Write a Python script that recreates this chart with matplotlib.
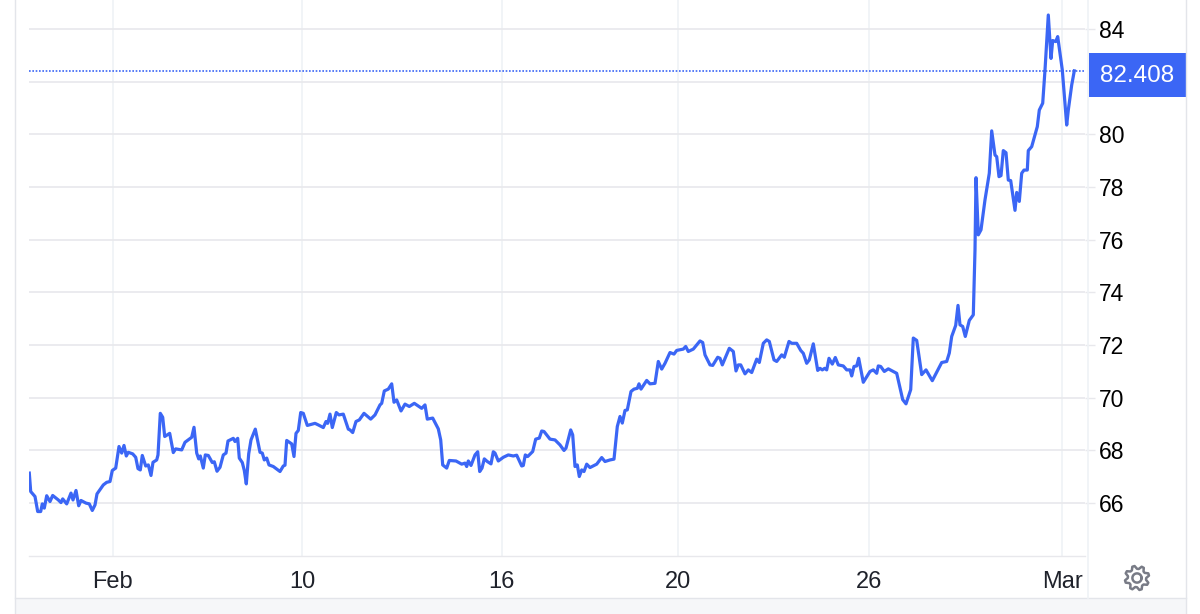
import numpy as np
import matplotlib
matplotlib.use("Agg")
import matplotlib.pyplot as plt
from matplotlib.lines import Line2D
from matplotlib.patches import Rectangle, Polygon

W, H = 1200, 614

# bar number along the time axis and price
bars_a = [0.3, 1.7, 6, 8.7, 11.7, 13.3, 15.3, 17.7, 21, 23.7, 29.3, 32, 33.7, 37.7, 42, 44, 47, 49.7, 52, 57,
          60.3, 63.3, 66, 68, 74.3, 77.7, 81, 83.3, 86.7, 90, 92.7, 95, 97.3, 99.3, 103.7, 106.7, 109, 111.3, 113.3, 116.7,
          119.3, 122, 124, 127.7, 129, 131.3, 133.7, 135.7, 140.7, 144.3, 146.7, 152.7, 156, 162.7, 165, 167.7, 169.7, 171.3, 174.3, 176.3,
          179.3, 183.3, 185.3, 188, 191, 194.3, 197, 199, 204.3, 206, 208.7, 210.3, 213.3, 215.3, 217.3, 219.7, 222, 226.3, 231, 233.3,
          235.3, 237.7, 240, 244.3, 251, 254.3, 256, 257.7, 262.7, 265, 267, 269.3, 271.7, 274.3, 278.3, 286, 289.3, 294.3, 297, 298.7,
          301, 303.3, 307.3, 310, 314.3, 319.3, 321, 323.7, 327, 330.3, 335, 341.7, 346]
price_a = [67.13, 66.43, 66.24, 65.67, 65.67, 65.96, 65.80, 66.27, 66.05, 66.28, 66.11, 66.01, 66.15, 65.96, 66.37, 66.11, 66.47, 65.89, 66.09, 65.99,
           65.96, 65.71, 65.92, 66.34, 66.68, 66.78, 66.81, 67.23, 67.32, 68.14, 67.89, 68.18, 67.78, 67.92, 67.86, 67.73, 67.30, 67.25, 67.80, 67.40,
           67.44, 67.04, 67.54, 67.63, 67.82, 69.40, 69.25, 68.52, 68.64, 67.91, 68.05, 68.01, 68.30, 68.49, 68.87, 67.89, 67.67, 67.78, 67.32, 67.82,
           67.80, 67.53, 67.56, 67.20, 67.35, 67.82, 67.89, 68.35, 68.45, 68.33, 68.45, 67.70, 67.53, 67.23, 66.72, 67.86, 68.39, 68.80, 67.92, 67.89,
           67.63, 67.70, 67.44, 67.38, 67.19, 67.40, 67.43, 68.37, 68.24, 67.76, 68.64, 68.75, 69.43, 69.40, 68.94, 69.02, 68.96, 68.86, 69.09, 69.02,
           69.37, 68.86, 69.43, 69.34, 69.37, 68.80, 68.77, 68.67, 69.09, 69.15, 69.40, 69.18, 69.34]

bars_b = [351, 352.7, 355.3, 359.3, 362.7, 365, 367.7, 372, 376, 380.3, 385.3, 392.7, 396, 398.3, 403.7, 409.3, 411.7, 413.7, 417.7, 420.3,
          427, 432.7, 436, 437.7, 439.3, 442, 446, 448.7, 450.7, 453, 455.3, 458.3, 462, 464.3, 466, 469.3, 474.3, 479.3, 484.3, 487.7,
          492.7, 494.3, 496.3, 498.7, 503.7, 506.7, 510.3, 512.7, 515, 521, 526, 531, 535, 537, 541.7, 543.7, 546, 548.3, 550.3, 552.7,
          555, 557.7, 561, 567.7, 572.7, 576, 581, 585, 588.3, 591, 593.3, 596, 598.3, 602, 605, 608.3, 610, 612, 617.7, 621,
          626, 629.3, 632.7, 636]
price_b = [69.72, 69.78, 70.25, 70.32, 70.52, 69.82, 69.91, 69.49, 69.75, 69.66, 69.78, 69.59, 69.72, 69.18, 69.22, 68.81, 68.39, 67.44, 67.32, 67.61,
           67.59, 67.47, 67.51, 67.38, 67.59, 67.42, 67.82, 67.94, 67.19, 67.32, 67.67, 67.57, 67.48, 67.94, 67.89, 67.59, 67.73, 67.82, 67.78, 67.81,
           67.40, 67.42, 67.82, 67.76, 67.95, 68.42, 68.46, 68.73, 68.71, 68.42, 68.39, 68.20, 67.99, 68.08, 68.77, 68.58, 67.38, 67.44, 67.00, 67.25,
           67.19, 67.47, 67.34, 67.47, 67.72, 67.57, 67.63, 67.66, 68.90, 69.28, 69.03, 69.51, 69.53, 70.23, 70.32, 70.35, 70.52, 70.32, 70.65, 70.52,
           70.54, 71.37, 71.08, 71.30]

bars_c = [641, 645, 647.7, 654.3, 656.7, 659.3, 664.3, 671, 673.7, 676, 681, 683.7, 688.7, 691, 693.3, 700.3, 704.3, 707, 709.3, 711.7,
          716, 719.3, 722.7, 727.7, 730.3, 734.3, 737.7, 740.3, 745, 747.7, 752.7, 755.3, 760, 762.7, 767.7, 771.7, 774.3, 777.7, 780.3, 784.3,
          788.7, 791, 793.3, 795.7, 797.7, 800, 803.3, 806.3, 809.3, 814.3, 817.7, 821, 822.7, 825, 827.7, 829.7, 834.3, 841, 844.3, 847.7,
          849.3, 851.7, 855.3, 859.3, 867.7]
price_c = [71.71, 71.65, 71.79, 71.84, 71.94, 71.75, 71.84, 72.15, 72.09, 71.62, 71.24, 71.22, 71.53, 71.49, 71.24, 71.87, 71.75, 71.01, 71.24, 71.24,
           70.90, 71.05, 70.95, 71.46, 71.33, 72.06, 72.19, 72.13, 71.43, 71.37, 71.62, 71.53, 72.13, 72.06, 72.06, 71.79, 71.68, 71.30, 71.43, 72.04,
           71.03, 71.11, 71.05, 71.11, 71.05, 71.49, 71.27, 71.52, 71.24, 71.20, 71.05, 71.05, 70.82, 71.18, 71.20, 71.49, 70.58, 70.99, 71.05, 70.92,
           71.20, 71.18, 70.99, 71.09, 70.92]

bars_d = [873.7, 877, 881.7, 884.3, 887.7, 892.7, 897, 903.3, 906.7, 912.7, 917.7, 920.3, 922.7, 926.7, 929, 931, 933.7, 936.3, 940.3, 944.3,
          946, 947, 949.3, 952, 956, 960.3, 962.7, 966, 967.7, 970, 972, 974.3, 977, 979.3, 981.7, 986, 987.7, 990.3, 992.7, 995,
          998.3, 999.3, 1002.7, 1008.3, 1010.3, 1013.7, 1016, 1019.3, 1022, 1023.7, 1026.7, 1028.7, 1033.3, 1037.7, 1039.3, 1042.7, 1045.3]
price_d = [69.92, 69.76, 70.30, 72.26, 72.17, 70.87, 71.05, 70.64, 70.89, 71.33, 71.37, 71.69, 72.32, 72.74, 73.50, 72.76, 72.70, 72.32, 72.93, 73.14,
           75.61, 78.35, 76.18, 76.37, 77.51, 78.52, 80.13, 79.21, 79.15, 78.39, 78.43, 79.38, 79.30, 78.26, 78.24, 77.11, 77.79, 77.45, 78.52, 78.64,
           78.64, 79.38, 79.53, 80.29, 80.92, 81.18, 82.44, 84.53, 82.88, 83.56, 83.52, 83.71, 82.44, 80.35, 80.92, 81.87, 82.408]

bars = bars_a + bars_b + bars_c + bars_d
prices = price_a + price_b + price_c + price_d

last_price = 82.408
y_ticks = [66, 68, 70, 72, 74, 76, 78, 80, 82, 84]
y_labels = ["66", "68", "70", "72", "74", "76", "78", "80", "", "84"]
x_ticks = [83.5, 273, 472.5, 649, 840, 1033]
x_labels = ["Feb", "10", "16", "20", "26", "Mar"]

BLUE = "#3b66f5"
GRID_H = "#e8e8ec"
GRID_V = "#eff2f6"
BORDER = "#e3e5ea"

plt.rcParams["font.family"] = ["Liberation Sans", "DejaVu Sans"]


def fx(px):
    return px / W


def fy(py):
    return 1 - py / H


fig = plt.figure(figsize=(W / 100, H / 100), dpi=100, facecolor="white")

# page furniture around the chart
fig.add_artist(Rectangle((fx(15), 0), fx(1186 - 15), fy(598), transform=fig.transFigure,
                         facecolor="#f6f7f9", edgecolor="none"))
fig.add_artist(Line2D([fx(15), fx(1186)], [fy(598), fy(598)], transform=fig.transFigure, color=BORDER, lw=1))
fig.add_artist(Line2D([fx(15), fx(15)], [0, 1], transform=fig.transFigure, color=BORDER, lw=1))
fig.add_artist(Line2D([fx(1186), fx(1186)], [0, 1], transform=fig.transFigure, color=BORDER, lw=1))
fig.add_artist(Line2D([fx(1088), fx(1088)], [fy(598), 1], transform=fig.transFigure, color=GRID_V, lw=1.2))

ax = fig.add_axes([fx(29), fy(555.5), fx(1085 - 29), 555.5 / H])
ax.set_facecolor("none")
ax.set_xlim(0, 1056)
ax.set_ylim(64, 85.1)
for s in ax.spines.values():
    s.set_visible(False)
ax.spines["bottom"].set_visible(True)
ax.spines["bottom"].set_color(GRID_H)
ax.spines["bottom"].set_linewidth(1)

ax.set_xticks(x_ticks, x_labels)
ax.yaxis.tick_right()
ax.set_yticks(y_ticks, y_labels)
ax.tick_params(axis="x", length=0, pad=11.5, labelsize=17, labelcolor="#1f222b")
ax.tick_params(axis="y", length=7.2, width=1, color=GRID_H, pad=3, labelsize=16.5, labelcolor="#000000")
for lab in ax.get_yticklabels():
    lab.set_verticalalignment("center_baseline")
ax.xaxis.grid(True, color=GRID_V, lw=1.2)
ax.yaxis.grid(True, color=GRID_H, lw=1.2)
ax.set_axisbelow(True)

ax.axhline(last_price, color=BLUE, lw=1.2, ls=(0, (1, 1)))
ax.plot(bars, prices, color=BLUE, lw=2.3, solid_joinstyle="round")

# last price tag
fig.add_artist(Rectangle((fx(1088.5), fy(96.5)), fx(1186 - 1088.5), (96.5 - 53) / H,
                         transform=fig.transFigure, facecolor=BLUE, edgecolor="none"))
fig.text(fx(1137), fy(76), "82.408", color="white", fontsize=17.5, ha="center", va="center")

# settings gear
cx, cy = 1137, 578
n = 8
ang = np.linspace(0, 2 * np.pi, n * 4, endpoint=False) + np.pi / 16
rad = np.tile([9.2, 12.2, 12.2, 9.2], n)
gear = np.column_stack([fx(cx + rad * np.cos(ang)), fy(cy + rad * np.sin(ang))])
fig.add_artist(Polygon(gear, closed=True, transform=fig.transFigure, fill=False,
                       edgecolor="#787b86", lw=1.8, joinstyle="round"))
t = np.linspace(0, 2 * np.pi, 40)
fig.add_artist(Line2D(fx(cx + 4.6 * np.cos(t)), fy(cy + 4.6 * np.sin(t)), transform=fig.transFigure,
                      color="#787b86", lw=1.8))

fig.savefig("out.png", dpi=100)
